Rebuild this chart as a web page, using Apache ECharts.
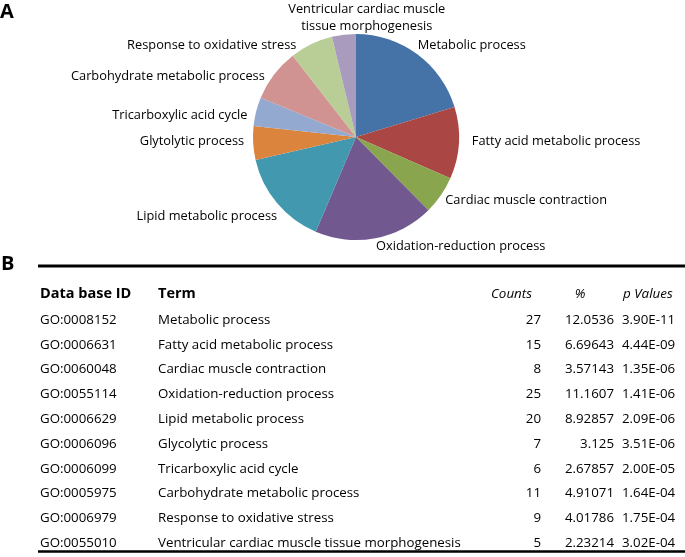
<!DOCTYPE html>
<html>
<head>
<meta charset="utf-8">
<script src="https://cdn.jsdelivr.net/npm/echarts@6/dist/echarts.min.js"></script>
<style>
html,body{margin:0;padding:0;background:#fff;}
#chart{width:685px;height:557px;}
</style>
</head>
<body>
<div id="chart"></div>
<script>
// ---- data ----
var pieLabels = ['Metabolic process', 'Fatty acid metabolic process', 'Cardiac muscle contraction',
  'Oxidation-reduction process', 'Lipid metabolic process', 'Glytolytic process',
  'Tricarboxylic acid cycle', 'Carbohydrate metabolic process', 'Response to oxidative stress',
  'Ventricular cardiac muscle\ntissue morphogenesis'];
var ids = ['GO:0008152', 'GO:0006631', 'GO:0060048', 'GO:0055114', 'GO:0006629',
  'GO:0006096', 'GO:0006099', 'GO:0005975', 'GO:0006979', 'GO:0055010'];
var terms = ['Metabolic process', 'Fatty acid metabolic process', 'Cardiac muscle contraction',
  'Oxidation-reduction process', 'Lipid metabolic process', 'Glycolytic process',
  'Tricarboxylic acid cycle', 'Carbohydrate metabolic process', 'Response to oxidative stress',
  'Ventricular cardiac muscle tissue morphogenesis'];
var counts = [27, 15, 8, 25, 20, 7, 6, 11, 9, 5];
var percents = ['12.0536', '6.69643', '3.57143', '11.1607', '8.92857', '3.125', '2.67857', '4.91071', '4.01786', '2.23214'];
var pValues = ['3.90E-11', '4.44E-09', '1.35E-06', '1.41E-06', '2.09E-06', '3.51E-06', '2.00E-05', '1.64E-04', '1.75E-04', '3.02E-04'];
var headers = ['Data base ID', 'Term', 'Counts', '%', 'p Values'];

// ---- styles ----
var palette = ['#4572A7', '#AA4643', '#89A54E', '#71588F', '#4198AF', '#DB843D', '#93A9CF', '#D19392', '#B9CD96', '#A99BBD'];
var FONT = '"Open Sans", sans-serif';
// small per-label nudges [dx, dy] for pie labels
var labelNudge = [[-9, -2], [0, -2], [-7, 0], [-5, -1], [11, 7], [4, -2], [4, 6], [2, 7], [-7, 9], [28, -8]];

var chart = echarts.init(document.getElementById('chart'), null, {renderer: 'canvas'});

var pieData = counts.map(function (v, i) {
  return {value: v, name: pieLabels[i]};
});

// table layout
var headerY = 294, rowY0 = 320, rowStep = 24.8;
var graphics = [];
graphics.push({type: 'text', left: 0, top: 2, style: {text: 'A', font: 'bold 20px ' + FONT, fill: '#000'}});
graphics.push({type: 'text', left: 1, top: 254, style: {text: 'B', font: 'bold 20px ' + FONT, fill: '#000'}});
graphics.push({type: 'line', shape: {x1: 38, y1: 266, x2: 685, y2: 266}, style: {stroke: '#000', lineWidth: 3}});
graphics.push({type: 'line', shape: {x1: 38, y1: 551.5, x2: 685, y2: 551.5}, style: {stroke: '#000', lineWidth: 2.5}});

function txt(x, y, s, font, align) {
  graphics.push({type: 'text', x: x, y: y, style: {text: s, font: font, fill: '#000', align: align || 'left', verticalAlign: 'middle'}});
}
var hb = 'bold 14.5px ' + FONT, hi = 'italic 13.4px ' + FONT, body = '13.3px ' + FONT;
txt(40, headerY, headers[0], hb);
txt(158, headerY, headers[1], hb);
txt(532, headerY, headers[2], hi, 'right');
txt(580, headerY, headers[3], hi, 'center');
txt(623, headerY, headers[4], hi);
for (var i = 0; i < ids.length; i++) {
  var y = rowY0 + i * rowStep;
  txt(40, y, ids[i], body);
  txt(158, y, terms[i], body);
  txt(541, y, String(counts[i]), body, 'right');
  txt(614, y, percents[i], body, 'right');
  txt(622, y, pValues[i], body);
}

chart.setOption({
  animation: false,
  backgroundColor: '#fff',
  color: palette,
  series: [{
    type: 'pie',
    center: [356, 137],
    radius: 103,
    startAngle: 90,
    clockwise: true,
    avoidLabelOverlap: false,
    itemStyle: {borderWidth: 0},
    label: {
      show: true,
      position: 'outside',
      color: '#000',
      fontFamily: FONT,
      fontSize: 12.8,
      lineHeight: 17,
      distanceToLabelLine: 4
    },
    labelLine: {show: false, length: 9, length2: 0},
    labelLayout: function (p) {
      var n = labelNudge[p.dataIndex];
      var r = {dx: n[0], dy: n[1]};
      if (p.dataIndex === 9) r.align = 'center';
      return r;
    },
    emphasis: {disabled: true},
    data: pieData
  }],
  graphic: graphics
});
</script>
</body>
</html>
